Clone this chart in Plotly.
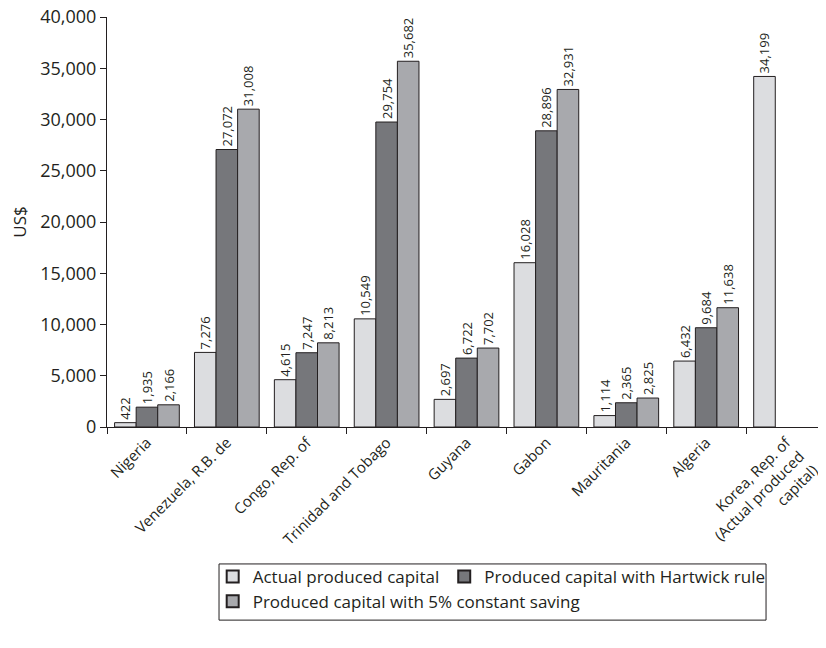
import plotly.graph_objects as go

categories = ["Nigeria", "Venezuela, R.B. de", "Congo, Rep. of", "Trinidad and Tobago",
              "Guyana", "Gabon", "Mauritania", "Algeria",
              "Korea, Rep. of<br>(Actual produced<br>capital)"]
actual = [422, 7276, 4615, 10549, 2697, 16028, 1114, 6432, 34199]
hartwick = [1935, 27072, 7247, 29754, 6722, 28896, 2365, 9684, None]
constant5 = [2166, 31008, 8213, 35682, 7702, 32931, 2825, 11638, None]
y_ticks = [0, 5000, 10000, 15000, 20000, 25000, 30000, 35000, 40000]

series = [
    ("Actual produced capital", actual, "#dcdde0", "legend"),
    ("Produced capital with Hartwick rule", hartwick, "#76777b", "legend"),
    ("Produced capital with 5% constant saving", constant5, "#a8a9ad", "legend2"),
]

FONT = "Open Sans"
INK = "#231f20"
fig = go.Figure()
for name, vals, col, leg in series:
    fig.add_trace(go.Bar(
        x=categories, y=vals, name=name, legend=leg,
        marker=dict(color=col, line=dict(color=INK, width=1)),
        text=[f"{v:,}" if v is not None else "" for v in vals],
        textposition="outside", textangle=-90, constraintext="none",
        cliponaxis=False,
        textfont=dict(family=FONT, size=13, color=INK),
    ))

legend_common = dict(
    orientation="h", xanchor="left", yanchor="top",
    bgcolor="rgba(0,0,0,0)", borderwidth=0,
    font=dict(family=FONT, size=17, color=INK),
    itemsizing="constant", traceorder="normal",
)

# The page body has an 8px default margin, so the figure is sized to fit inside it.
fig.update_layout(
    width=818, height=632,
    margin=dict(l=99, r=0, t=9, b=213),
    paper_bgcolor="white", plot_bgcolor="white",
    barmode="group", bargap=0.19, bargroupgap=0,
    font=dict(family=FONT, color=INK),
    showlegend=True,
    legend=dict(x=0.147, y=-0.322, **legend_common),
    legend2=dict(x=0.147, y=-0.382, **legend_common),
    shapes=[dict(type="rect", xref="paper", yref="paper",
                 x0=0.1558, x1=0.9166, y0=-0.334, y1=-0.471,
                 line=dict(color=INK, width=1), fillcolor="rgba(0,0,0,0)")],
    xaxis=dict(
        automargin=False, ticklabeloverflow="allow",
        showline=True, linecolor=INK, linewidth=1,
        ticks="outside", tickson="boundaries", ticklen=6, tickcolor=INK,
        tickangle=-45, tickfont=dict(family=FONT, size=15, color=INK),
        showgrid=False,
    ),
    yaxis=dict(
        automargin=False, ticklabeloverflow="allow",
        range=[0, 40000], tickvals=y_ticks,
        tickformat=",d",
        showline=True, linecolor=INK, linewidth=1,
        ticks="outside", ticklen=6, tickcolor=INK,
        tickfont=dict(family=FONT, size=18, color=INK),
        showgrid=False, zeroline=False,
        title=dict(text="US$", font=dict(family=FONT, size=17, color=INK), standoff=24),
    ),
)

fig.write_html("out.html")
